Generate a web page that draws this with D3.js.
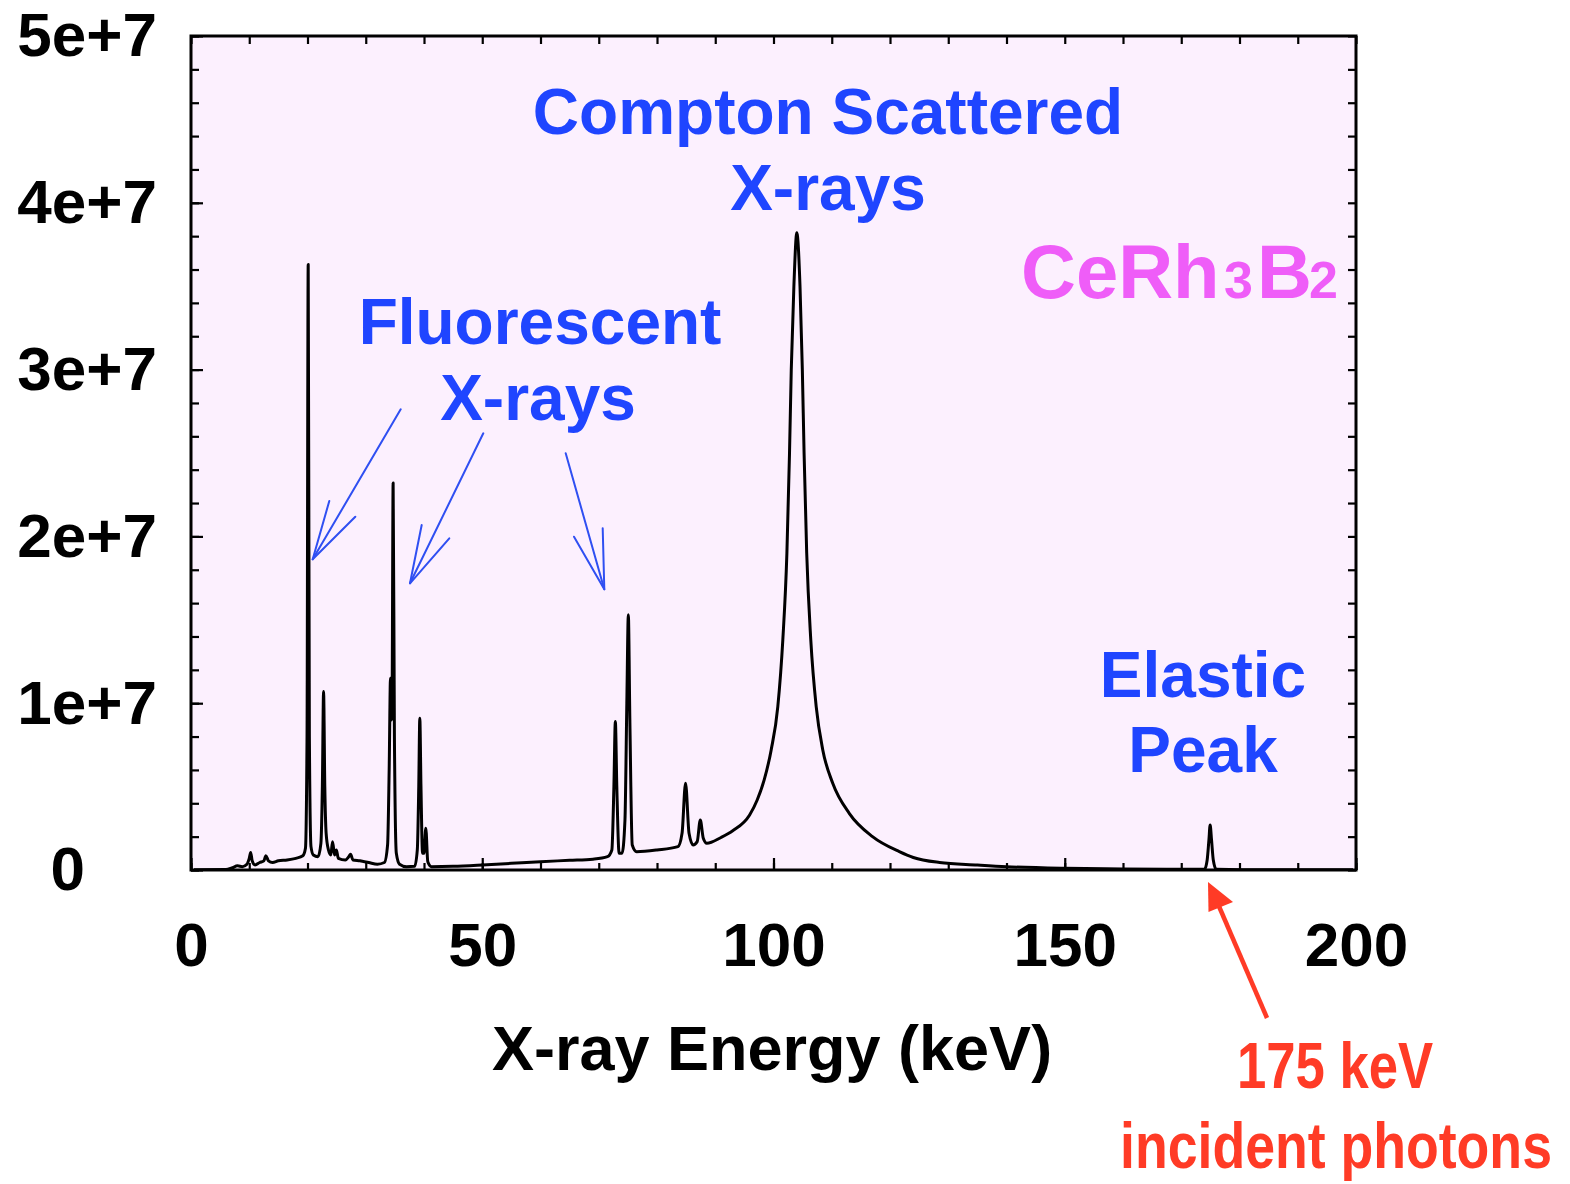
<!DOCTYPE html>
<html>
<head>
<meta charset="utf-8">
<script src="https://cdn.jsdelivr.net/npm/d3@7"></script>
<style>
  html, body { margin: 0; padding: 0; background: #ffffff; }
  svg { display: block; }
  text { font-family: "Liberation Sans", Arial, Helvetica, sans-serif; font-weight: bold; }
</style>
</head>
<body>
<svg id="chart" width="1570" height="1184"></svg>
<script>
// X-ray energy spectrum of CeRh3B2 (175 keV incident photons)
const energyKeV = [
  0.5, 6.0, 7.0, 8.0, 8.8, 9.6, 10.0, 10.25, 10.5, 11.0, 11.8, 12.5, 12.86, 13.3, 14.0, 15.0, 16.5, 18.0,
  19.2, 19.65, 19.92, 20.12, 20.32, 20.6, 21.0, 21.8, 22.3, 22.55, 22.76, 22.97, 23.2, 23.6, 24.0, 24.3,
  24.65, 24.95, 25.3, 26.5, 27.1, 27.4, 27.8, 29.0, 30.5, 32.0, 33.2, 33.75, 34.02, 34.25, 34.42, 34.52,
  34.7, 34.92, 35.25, 35.8, 37.0, 38.4, 38.85, 39.1, 39.28, 39.48, 39.75, 40.0, 40.31, 40.65, 41.3,
  45, 50, 55, 60, 65, 69, 71.5, 72.25, 72.6, 72.85, 73.1, 73.5, 74.0, 74.5, 74.82, 75.08, 75.34, 75.75,
  76.5, 80, 83.6, 84.3, 84.9, 85.5, 86.2, 86.9, 87.43, 87.95, 88.55, 91.0, 93.0, 95.9, 97.2, 98.4, 99.6,
  100.74, 101.6, 102.3, 102.75, 103.05, 103.5, 104.0, 104.55, 104.95, 105.25, 105.7, 106.4, 107.33,
  108.46, 110.17, 113.0, 117.0, 121.6, 124.0, 128.5, 135, 140, 150, 160, 170, 174.0, 174.45, 174.75,
  174.96, 175.2, 175.5, 176.0, 185, 199.5
];
// counts per channel, in millions
const countsMillions = [
  0.02, 0.03, 0.12, 0.25, 0.2, 0.35, 0.7, 1.05, 0.55, 0.3, 0.45, 0.55, 0.85, 0.55, 0.45, 0.55, 0.6, 0.7,
  0.85, 1.3, 8.0, 36.3, 8.0, 1.4, 0.9, 0.8, 1.6, 5.0, 10.7, 5.0, 2.2, 1.2, 0.9, 1.7,
  0.9, 1.2, 0.7, 0.6, 0.8, 0.95, 0.6, 0.55, 0.45, 0.35, 0.45, 1.5, 6.0, 11.5, 9.0, 10.0,
  23.2, 8.0, 1.0, 0.35, 0.2, 0.22, 1.2, 5.0, 9.1, 5.0, 1.0, 1.0, 2.5, 0.5, 0.2,
  0.22, 0.3, 0.4, 0.5, 0.58, 0.65, 0.8, 1.2, 5.0, 8.9, 5.0, 1.0, 1.0, 3.0, 10.0, 15.3, 9.0, 1.5,
  1.1, 1.2, 1.4, 2.2, 5.2, 2.2, 1.5, 1.7, 3.0, 1.9, 1.6, 1.95, 2.35, 3.3, 4.2, 5.4, 7.2,
  9.8, 13.8, 19.0, 25.0, 30.0, 35.0, 38.2, 35.0, 30.0, 25.0, 19.0, 13.8, 9.8,
  7.2, 5.2, 3.4, 2.0, 1.1, 0.75, 0.45, 0.3, 0.2, 0.1, 0.06, 0.04, 0.05, 0.6, 1.8,
  2.7, 1.8, 0.6, 0.05, 0.02, 0.02
];
const xTickValues = [0, 50, 100, 150, 200];
const xTickLabels = ["0", "50", "100", "150", "200"];
const yTickValues = [0, 1e7, 2e7, 3e7, 4e7, 5e7];
const yTickLabels = ["0", "1e+7", "2e+7", "3e+7", "4e+7", "5e+7"];

const spectrum = energyKeV.map((e, i) => ({ e, c: countsMillions[i] * 1e6 }));

const svg = d3.select("#chart");
const plot = { left: 191, right: 1356, top: 36, bottom: 870 };

const x = d3.scaleLinear().domain([0, 200]).range([plot.left, plot.right]);
const y = d3.scaleLinear().domain([0, 5e7]).range([plot.bottom, plot.top]);

// plot background
svg.append("rect")
  .attr("x", plot.left).attr("y", plot.top)
  .attr("width", plot.right - plot.left).attr("height", plot.bottom - plot.top)
  .attr("fill", "#fcf0fe");

svg.append("clipPath").attr("id", "plot-clip")
  .append("rect")
  .attr("x", plot.left).attr("y", plot.top - 2)
  .attr("width", plot.right - plot.left).attr("height", plot.bottom - plot.top + 2);

// spectrum trace
const line = d3.line()
  .x(d => x(d.e))
  .y(d => y(d.c))
  .curve(d3.curveMonotoneX);

svg.append("path")
  .datum(spectrum)
  .attr("clip-path", "url(#plot-clip)")
  .attr("fill", "none")
  .attr("stroke", "#000")
  .attr("stroke-width", 3)
  .attr("stroke-linejoin", "round")
  .attr("d", line);

// inward ticks on all four sides
const minorX = d3.range(0, 201, 10);
const minorY = d3.range(0, 5e7 + 1, 2e6);

function styleAxis(g) {
  g.select(".domain").remove();
  g.selectAll(".tick line").attr("stroke", "#000").attr("stroke-width", 2.2);
}

svg.append("g").attr("transform", `translate(0,${plot.bottom})`)
  .call(d3.axisBottom(x).tickValues(minorX).tickSize(-7).tickFormat(""))
  .call(styleAxis);
svg.append("g").attr("transform", `translate(0,${plot.bottom})`)
  .call(d3.axisBottom(x).tickValues(xTickValues).tickSize(-12).tickPadding(52)
    .tickFormat((d, i) => xTickLabels[i]))
  .call(styleAxis)
  .call(g => g.selectAll(".tick text").attr("font-size", 62).attr("fill", "#000")
    .attr("font-family", null));

svg.append("g").attr("transform", `translate(0,${plot.top})`)
  .call(d3.axisTop(x).tickValues(minorX).tickSize(-8).tickFormat(""))
  .call(styleAxis);

svg.append("g").attr("transform", `translate(${plot.left},0)`)
  .call(d3.axisLeft(y).tickValues(minorY).tickSize(-8).tickFormat(""))
  .call(styleAxis);
svg.append("g").attr("transform", `translate(${plot.left},0)`)
  .call(d3.axisLeft(y).tickValues(yTickValues).tickSize(-12).tickPadding(34)
    .tickFormat((d, i) => yTickLabels[i]))
  .call(styleAxis)
  .call(g => g.selectAll(".tick text").attr("font-size", 62).attr("fill", "#000")
    .attr("font-family", null))
  // the zero label sits further out, centred under the exponent labels
  .call(g => g.selectAll(".tick text").filter(d => d === 0).attr("x", -106));

svg.append("g").attr("transform", `translate(${plot.right},0)`)
  .call(d3.axisRight(y).tickValues(minorY).tickSize(-8).tickFormat(""))
  .call(styleAxis);

// frame
svg.append("rect")
  .attr("x", plot.left).attr("y", plot.top)
  .attr("width", plot.right - plot.left).attr("height", plot.bottom - plot.top)
  .attr("fill", "none").attr("stroke", "#000").attr("stroke-width", 3);

// axis title
svg.append("text")
  .attr("x", 772).attr("y", 1070)
  .attr("text-anchor", "middle")
  .attr("font-size", 63).attr("fill", "#000")
  .text("X-ray Energy (keV)");

// annotations
const blue = "#1f45ff";
const annotations = [
  { text: "Compton Scattered", x: 828, y: 134 },
  { text: "X-rays", x: 828, y: 210 },
  { text: "Fluorescent", x: 540, y: 344 },
  { text: "X-rays", x: 538, y: 420 },
  { text: "Elastic", x: 1203, y: 697 },
  { text: "Peak", x: 1203, y: 772 }
];
svg.selectAll("text.note").data(annotations).join("text")
  .attr("class", "note")
  .attr("x", d => d.x).attr("y", d => d.y)
  .attr("text-anchor", "middle")
  .attr("font-size", 64).attr("fill", blue)
  .text(d => d.text);

// sample formula with subscripts
const magenta = "#ef5df8";
const formula = [
  { t: "CeRh", x: 1021, size: 76 },
  { t: "3", x: 1224, size: 52 },
  { t: "B", x: 1257, size: 76 },
  { t: "2", x: 1309, size: 52 }
];
svg.selectAll("text.formula").data(formula).join("text")
  .attr("class", "formula")
  .attr("x", d => d.x).attr("y", 298)
  .attr("font-size", d => d.size).attr("fill", magenta)
  .text(d => d.t);

// arrows pointing at the fluorescent lines
const arrowBlue = "#2f4ff2";
const fluorArrows = [
  { from: [400.7, 409.3], tip: [312.7, 559.3], w1: [329.3, 501], w2: [355.3, 516.7] },
  { from: [483.3, 433.3], tip: [410, 583.3], w1: [421.7, 525], w2: [449.3, 538.3] },
  { from: [565.7, 453.3], tip: [604.3, 589.3], w1: [574, 536.7], w2: [602.7, 528.3] }
];
const arrowG = svg.append("g").attr("fill", "none").attr("stroke", arrowBlue)
  .attr("stroke-width", 2).attr("stroke-linecap", "round").attr("stroke-linejoin", "round");
fluorArrows.forEach(a => {
  arrowG.append("path").attr("d", d3.line()([a.from, a.tip]));
  arrowG.append("path").attr("d", d3.line()([a.w1, a.tip, a.w2]));
});

// incident beam marker
const red = "#ff3b26";
svg.append("line")
  .attr("x1", 1267).attr("y1", 1018).attr("x2", 1218).attr("y2", 904)
  .attr("stroke", red).attr("stroke-width", 4.5);
svg.append("path")
  .attr("d", d3.line()([[1208, 882], [1208.5, 912], [1233, 902]]) + "Z")
  .attr("fill", red);

// condensed red caption lines, horizontally squeezed to the narrow face
const captions = [
  { t: "175 keV", cx: 1335, y: 1088, sx: 0.81 },
  { t: "incident photons", cx: 1336, y: 1168, sx: 0.825 }
];
svg.selectAll("text.caption").data(captions).join("text")
  .attr("class", "caption")
  .attr("transform", d => `translate(${d.cx},${d.y}) scale(${d.sx},1)`)
  .attr("text-anchor", "middle")
  .attr("font-size", 65).attr("fill", red)
  .text(d => d.t);
</script>
</body>
</html>
